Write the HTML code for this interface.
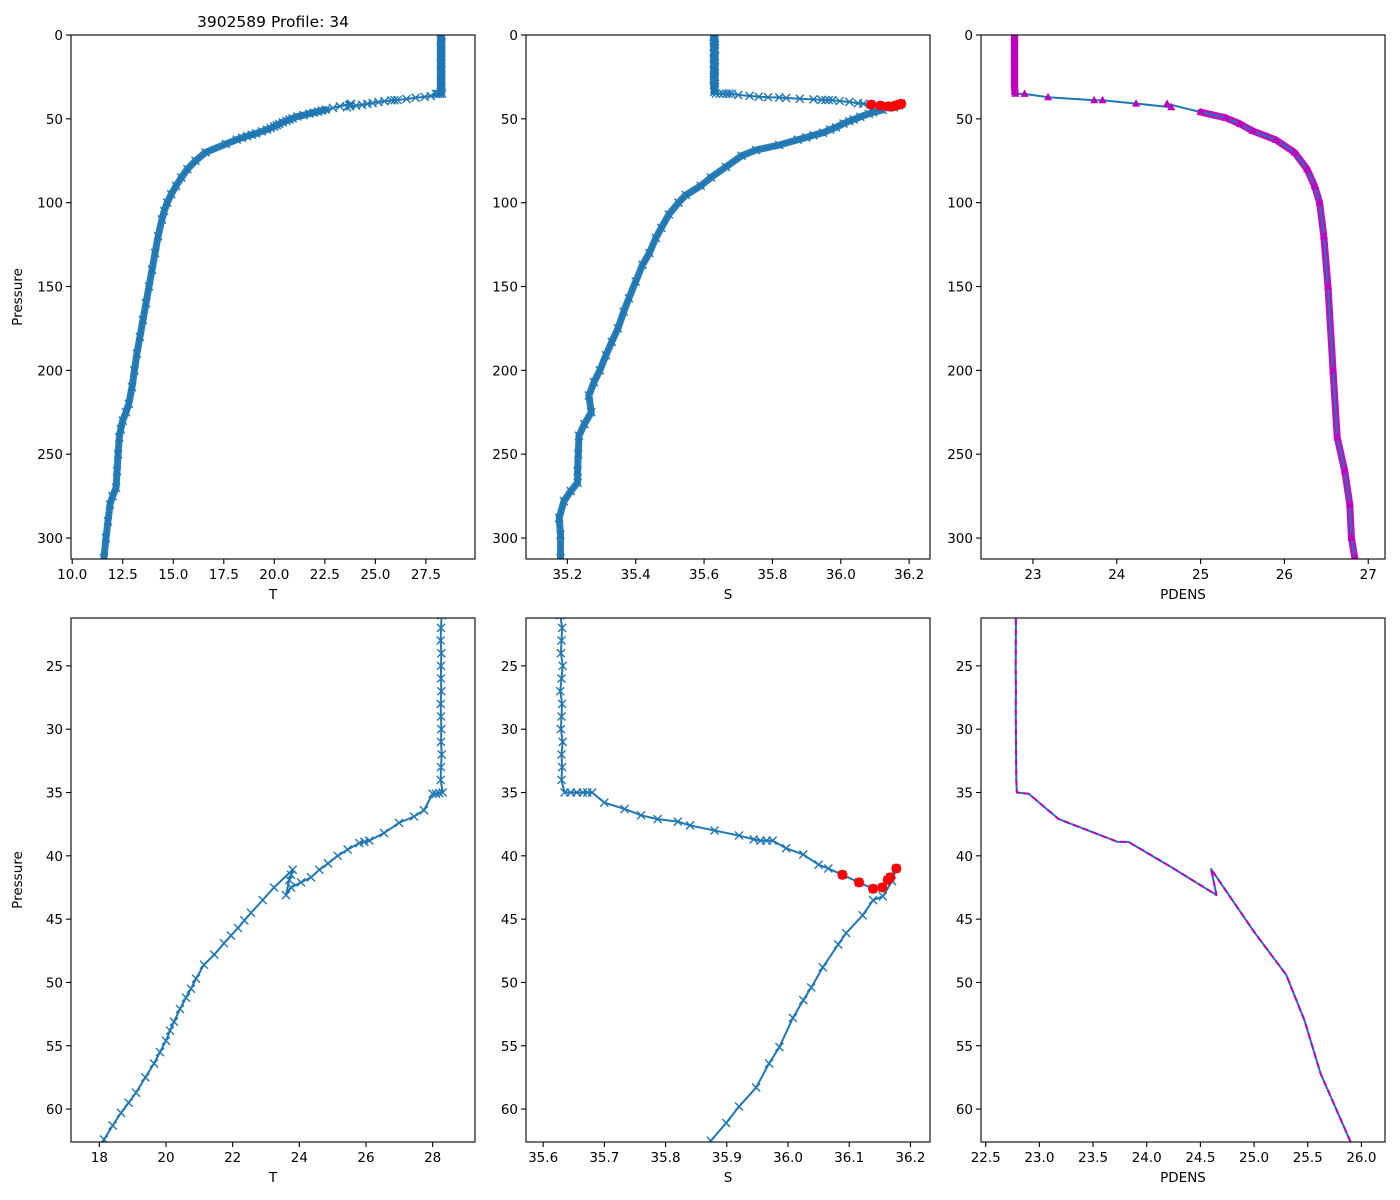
<!DOCTYPE html>
<html><head><meta charset="utf-8"><title>3902589 Profile: 34</title>
<style>
html,body{margin:0;padding:0;background:#fff;width:1400px;height:1200px;overflow:hidden;}
svg{display:block;font-family:"DejaVu Sans","Liberation Sans",sans-serif;}
</style></head>
<body>
<svg id="fig" width="1400" height="1200" viewBox="0 0 1400 1200" xmlns="http://www.w3.org/2000/svg">
<rect x="0" y="0" width="1400" height="1200" fill="#fff"/>
<text x="273" y="27" font-size="15.5" text-anchor="middle">3902589 Profile: 34</text>
</svg>
<script>
// ---------- data ----------
const tempPres = [0,1,2,3,4,5,6,7,8,9,10,11,12,13,14,15,16,17,18,19,20,21,22,23,24,25,26,27,28,29,30,31,32,33,34,
 35,35.05,35.1,35.1,36.4,36.9,37.4,38.2,38.8,38.9,39.0,39.5,40.0,40.6,41.1,41.7,42.1,42.5,43.1,41.9,41.5,41.1,
 42.5,43.5,44.5,45.1,45.7,46.3,46.9,47.8,48.6,49.7,50.5,51.2,52.1,53.1,53.8,54.6,55.5,56.4,57.5,58.7,59.5,60.3,61.3,62.4,
 65,70,75,80,85,90,95,100,105,110,120,130,140,150,160,170,180,190,200,210,220,225,230,235,240,250,260,270,275,280,290,300,312];
const tempVals = [28.27,28.25,28.26,28.24,28.25,28.27,28.25,28.26,28.24,28.25,28.26,28.25,28.24,28.27,28.25,28.26,28.25,28.24,28.25,28.26,28.25,28.27,28.25,28.24,28.26,28.25,28.25,28.26,28.24,28.25,28.26,28.25,28.27,28.25,28.24,
 28.3,28.2,28.1,28.0,27.74,27.44,26.99,26.54,26.1,25.95,25.8,25.45,25.15,24.86,24.6,24.35,24.05,23.75,23.6,23.7,23.75,23.8,
 23.24,22.9,22.55,22.35,22.16,21.95,21.74,21.45,21.14,20.9,20.75,20.6,20.42,20.24,20.12,20.0,19.82,19.64,19.38,19.1,18.88,18.65,18.4,18.14,
 17.6,16.6,16.1,15.7,15.4,15.14,14.9,14.7,14.55,14.44,14.25,14.1,13.95,13.8,13.65,13.5,13.35,13.2,13.08,12.96,12.8,12.66,12.5,12.4,12.33,12.27,12.22,12.17,12.0,11.87,11.77,11.67,11.57];

const salPres = [0,1,2,3,4,5,6,7,8,9,10,11,12,13,14,15,16,17,18,19,20,21,22,23,24,25,26,27,28,29,30,31,32,33,34,
 35,35,35,35,35,35,35.8,36.3,36.8,37.1,37.3,37.6,38.0,38.4,38.7,38.8,38.8,38.8,39.4,39.9,40.7,41.0,
 41.5,42.1,42.6,42.5,41.9,41.7,41.0,
 42.0,43.2,43.5,44.7,46.1,47.0,48.8,50.4,51.4,52.8,55.1,56.4,58.3,59.8,61.1,62.5,
 65.6,68.6,72,78.7,85,90,95.4,100,107,115,121,130,137,147,157,165,175,183,191,200,207,215,225,232,239,250,260,267,272,278,288,298,312];
const salVals = [35.63,35.628,35.632,35.63,35.629,35.631,35.63,35.628,35.632,35.63,35.631,35.629,35.63,35.632,35.628,35.63,35.631,35.629,35.63,35.632,35.63,35.628,35.631,35.63,35.629,35.632,35.63,35.628,35.631,35.63,35.629,35.632,35.63,35.631,35.63,
 35.635,35.645,35.655,35.665,35.672,35.68,35.70,35.733,35.76,35.787,35.82,35.84,35.88,35.92,35.944,35.955,35.965,35.975,35.997,36.025,36.05,36.066,
 36.089,36.116,36.139,36.154,36.163,36.167,36.177,
 36.17,36.155,36.139,36.122,36.095,36.082,36.057,36.038,36.025,36.008,35.986,35.969,35.948,35.92,35.899,35.874,
 35.82,35.752,35.71,35.664,35.62,35.59,35.547,35.525,35.497,35.475,35.459,35.44,35.42,35.40,35.38,35.365,35.348,35.33,35.313,35.295,35.278,35.263,35.27,35.25,35.234,35.232,35.23,35.23,35.21,35.19,35.176,35.18,35.18];

const flagPres = [41.5,42.1,42.6,42.5,41.9,41.7,41.0];
const flagSal = [36.089,36.116,36.139,36.154,36.163,36.167,36.177];

const densPres = [0,1,2,3,4,5,6,7,8,9,10,11,12,13,14,15,16,17,18,19,20,21,22,23,24,25,26,27,28,29,30,31,32,33,34,
 35.0,35.1,37.1,38.9,38.9,40.9,43.1,41.05,46,49.4,53,57.2,62.6,
 70,80,90,100,120,150,200,240,260,280,300,312];
const densVals = [22.78,22.78,22.781,22.779,22.78,22.78,22.781,22.78,22.779,22.78,22.78,22.781,22.78,22.78,22.779,22.78,22.781,22.78,22.78,22.779,22.78,22.78,22.781,22.78,22.78,22.779,22.78,22.781,22.78,22.78,22.781,22.782,22.783,22.784,22.785,
 22.79,22.9,23.18,23.73,23.83,24.23,24.65,24.6,25.0,25.3,25.47,25.62,25.9,
 26.12,26.27,26.36,26.42,26.47,26.52,26.58,26.63,26.72,26.78,26.8,26.84];

// tick label arrays
const topPresTicks = [0,50,100,150,200,250,300];
const botPresTicks = [25,30,35,40,45,50,55,60];
const topTempTicks = ["10.0","12.5","15.0","17.5","20.0","22.5","25.0","27.5"];
const topSalTicks = ["35.2","35.4","35.6","35.8","36.0","36.2"];
const topDensTicks = ["23","24","25","26","27"];
const botTempTicks = ["18","20","22","24","26","28"];
const botSalTicks = ["35.6","35.7","35.8","35.9","36.0","36.1","36.2"];
const botDensTicks = ["22.5","23.0","23.5","24.0","24.5","25.0","25.5","26.0"];

// ---------- drawing ----------
const NS = "http://www.w3.org/2000/svg";
const svg = document.getElementById('fig');
const BLUE = "#1f77b4", MAG = "#bf00bf";
function mk(tag, attrs, parent){
  const e = document.createElementNS(NS, tag);
  for (const k in attrs) e.setAttribute(k, attrs[k]);
  (parent||svg).appendChild(e);
  return e;
}
function makeAxes(name, left, top, xmin, xmax, ymin, ymax, xticks, yticks, xlabel, showYLabel){
  const w = 404, h = 524;
  const g = mk('g', {});
  
  
  const sx = v => left + (v - xmin) / (xmax - xmin) * w;
  const sy = v => top + (v - ymin) / (ymax - ymin) * h;
  const clipId = name + '-clip';
  const cp = mk('clipPath', {id: clipId}, g);
  mk('rect', {x: left, y: top, width: w, height: h}, cp);
  const plot = mk('g', {'clip-path': 'url(#' + clipId + ')'}, g);
  
  
  const xt = mk('g', {}, g);
  
  
  xticks.forEach(t => {
    const x = sx(parseFloat(t));
    mk('line', {x1: x, x2: x, y1: top + h, y2: top + h + 5, stroke: '#000', 'stroke-width': 1.1}, xt);
    const tx = mk('text', {x: x, y: top + h + 20, 'font-size': 13.5, 'text-anchor': 'middle'}, xt);
    
    
    tx.textContent = t;
  });
  const xl = mk('text', {x: left + w / 2, y: top + h + 40, 'font-size': 13.5, 'text-anchor': 'middle'}, g);
  
  
  xl.textContent = xlabel;
  const yt = mk('g', {}, g);
  
  
  yticks.forEach(t => {
    const y = sy(t);
    mk('line', {x1: left - 5, x2: left, y1: y, y2: y, stroke: '#000', 'stroke-width': 1.1}, yt);
    const ty = mk('text', {x: left - 8, y: y + 5, 'font-size': 13.5, 'text-anchor': 'end'}, yt);
    
    
    ty.textContent = String(t);
  });
  if (showYLabel) {
    const cx = left - 49, cy = top + h / 2;
    const yl = mk('text', {x: cx, y: cy, 'font-size': 13.5, 'text-anchor': 'middle', transform: 'rotate(-90 ' + cx + ' ' + cy + ')'}, g);
    
    
    yl.textContent = 'Pressure';
  }
  return {g, plot, sx, sy, left, top, w, h};
}
function frame(ax){
  const r = mk('rect', {x: ax.left, y: ax.top, width: ax.w, height: ax.h, fill: 'none', stroke: '#000', 'stroke-width': 1.1}, ax.g);
  
  
}
function linePath(ax, vals, pres, filterFn){
  let d = '', pen = false;
  for (let i = 0; i < vals.length; i++) {
    if (filterFn && !filterFn(pres[i])) { pen = false; continue; }
    d += (pen ? 'L' : 'M') + ax.sx(vals[i]).toFixed(2) + ' ' + ax.sy(pres[i]).toFixed(2);
    pen = true;
  }
  return d;
}
function drawLine(ax, vals, pres, color, width, name, dash){
  const p = mk('path', {d: linePath(ax, vals, pres), fill: 'none', stroke: color, 'stroke-width': width, 'stroke-linejoin': 'round'}, ax.plot);
  if (dash) p.setAttribute('stroke-dasharray', dash);
  
  
}
function drawBand(ax, vals, pres, color, name){
  const p = mk('path', {d: linePath(ax, vals, pres, v => v <= 34.5 || v >= 44), fill: 'none', stroke: color, 'stroke-width': 7, 'stroke-linejoin': 'round', 'stroke-linecap': 'round', opacity: 0.95}, ax.plot);
  
  
}
function drawX(ax, vals, pres, name){
  const g = mk('g', {stroke: BLUE, 'stroke-width': 1.4, fill: 'none'}, ax.plot);
  
  
  const s = 4;
  for (let i = 0; i < vals.length; i++) {
    const x = ax.sx(vals[i]), y = ax.sy(pres[i]);
    const m = mk('path', {d: `M${x-s} ${y-s}L${x+s} ${y+s}M${x-s} ${y+s}L${x+s} ${y-s}`}, g);
    
    
  }
}
function drawDots(ax, vals, pres, name, r){
  const g = mk('g', {fill: '#ff0000'}, ax.plot);
  
  
  for (let i = 0; i < vals.length; i++) {
    const c = mk('circle', {cx: ax.sx(vals[i]), cy: ax.sy(pres[i]), r: r}, g);
    
    
  }
}
function drawTri(ax, vals, pres, name){
  const g = mk('g', {fill: MAG}, ax.plot);
  
  
  for (let i = 0; i < vals.length; i++) {
    const x = ax.sx(vals[i]), y = ax.sy(pres[i]);
    const t = mk('path', {d: `M${x} ${y-4.5}L${x+4} ${y+3}L${x-4} ${y+3}Z`}, g);
    
    
  }
}

// top row
const a1 = makeAxes('temp-full-panel', 71, 35, 9.94, 29.93, 0, 312.5, topTempTicks, topPresTicks, 'T', true);
drawBand(a1, tempVals, tempPres, BLUE, 'temp-dense-band');
drawLine(a1, tempVals, tempPres, BLUE, 2, 'temp-line');
drawX(a1, tempVals, tempPres, 'temp-markers');
frame(a1);

const a2 = makeAxes('sal-full-panel', 526, 35, 35.079, 36.261, 0, 312.5, topSalTicks, topPresTicks, 'S', false);
drawBand(a2, salVals, salPres, BLUE, 'sal-dense-band');
drawLine(a2, salVals, salPres, BLUE, 2, 'sal-line');
drawX(a2, salVals, salPres, 'sal-markers');
drawDots(a2, flagSal, flagPres, 'sal-flagged-points', 5);
frame(a2);

const a3 = makeAxes('pdens-full-panel', 981, 35, 22.38, 27.2, 0, 312.5, topDensTicks, topPresTicks, 'PDENS', false);
drawBand(a3, densVals, densPres, MAG, 'pdens-dense-band');
drawLine(a3, densVals, densPres, BLUE, 2, 'pdens-line');
drawTri(a3, densVals, densPres, 'pdens-markers');
frame(a3);

// bottom row
const b1 = makeAxes('temp-zoom-panel', 71, 618, 17.15, 29.27, 21.22, 62.6, botTempTicks, botPresTicks, 'T', true);
drawLine(b1, tempVals, tempPres, BLUE, 2, 'temp-zoom-line');
drawX(b1, tempVals, tempPres, 'temp-zoom-markers');
frame(b1);

const b2 = makeAxes('sal-zoom-panel', 526, 618, 35.572, 36.232, 21.22, 62.6, botSalTicks, botPresTicks, 'S', false);
drawLine(b2, salVals, salPres, BLUE, 2, 'sal-zoom-line');
drawX(b2, salVals, salPres, 'sal-zoom-markers');
drawDots(b2, flagSal, flagPres, 'sal-zoom-flagged-points', 5);
frame(b2);

const b3 = makeAxes('pdens-zoom-panel', 981, 618, 22.456, 26.22, 21.22, 62.6, botDensTicks, botPresTicks, 'PDENS', false);
drawLine(b3, densVals, densPres, BLUE, 2, 'pdens-zoom-line');
drawLine(b3, densVals, densPres, MAG, 2, 'pdens-zoom-dashed-line', '6 4');
frame(b3);
</script>
</body></html>
